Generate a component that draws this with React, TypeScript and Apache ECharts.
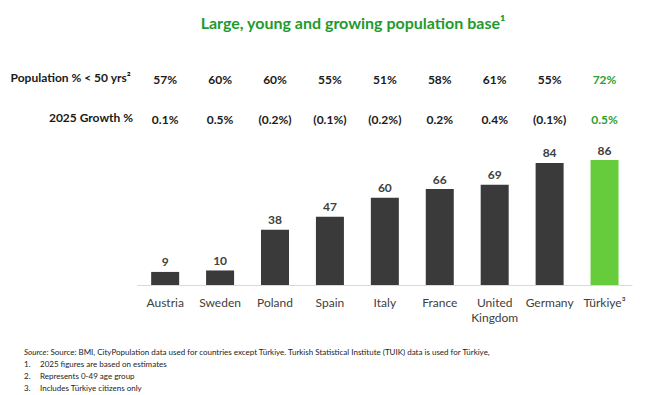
import React, { useEffect, useRef } from "react";
import * as echarts from "echarts";

const categories = ["Austria", "Sweden", "Poland", "Spain", "Italy", "France", "United\nKingdom", "Germany", "Türkiye³"];
const populationMillions = [9, 10, 38, 47, 60, 66, 69, 84, 86];
const under50Share = ["57%", "60%", "60%", "55%", "51%", "58%", "61%", "55%", "72%"];
const growth2025 = ["0.1%", "0.5%", "(0.2%)", "(0.1%)", "(0.2%)", "0.2%", "0.4%", "(0.1%)", "0.5%"];
const highlightIndex = 8;

const FONT = "Lato, 'Open Sans', sans-serif";
const DARK = "#3a3a3a";
const GREEN_BAR = "#66cc3c";
const GREEN_TEXT = "#2f9e32";
const TITLE_GREEN = "#1e9a2e";
const NOTE_SIZE = 8;

export default function App() {
  const ref = useRef<HTMLDivElement>(null);
  useEffect(() => {
    if (!ref.current) return;
    const chart = echarts.init(ref.current, undefined, { renderer: "svg" });
    const rowAxis = (data: string[], offset: number) => ({
      type: "category" as const,
      data,
      position: "top" as const,
      offset,
      gridIndex: 0,
      axisLine: { show: false },
      axisTick: { show: false },
      axisLabel: {
        margin: 0,
        interval: 0,
        fontFamily: FONT,
        fontSize: 12,
        fontWeight: "bold" as const,
        color: (_v: any, i: number) => (i === highlightIndex ? GREEN_TEXT : "#1a1a1a"),
      },
    });
    const note = (text: string, left: number, top: number) => ({
      type: "text" as const,
      left,
      top,
      style: { text, fontFamily: FONT, fontSize: NOTE_SIZE, fill: "#222" },
    });
    chart.setOption({
      animation: false,
      backgroundColor: "#ffffff",
      title: {
        text: "Large, young and growing population base¹",
        left: 348,
        top: 9,
        textAlign: "center",
        textStyle: { fontFamily: FONT, fontSize: 16, fontWeight: "bold", color: TITLE_GREEN },
      },
      grid: { left: 137.7, top: 139.7, width: 494.3, height: 145.3 },
      xAxis: [
        {
          type: "category",
          data: categories,
          axisLine: { lineStyle: { color: "#d9d9d9", width: 1 } },
          axisTick: { show: false },
          axisLabel: {
            interval: 0,
            margin: 10,
            fontFamily: FONT,
            fontSize: 12,
            color: "#404040",
            lineHeight: 15,
          },
        },
        rowAxis(under50Share, 54),
        rowAxis(growth2025, 14),
      ],
      yAxis: { type: "value", min: 0, max: 100, show: false, splitLine: { show: false } },
      series: [
        {
          type: "bar",
          data: populationMillions.map((v, i) => ({
            value: v,
            itemStyle: { color: i === highlightIndex ? GREEN_BAR : DARK },
          })),
          barWidth: 28,
          label: {
            show: true,
            position: "top",
            distance: 4,
            fontFamily: FONT,
            fontSize: 12,
            fontWeight: "bold",
            color: "#404040",
          },
        },
      ],
      graphic: [
        {
          type: "text",
          right: 670 - 131,
          top: 71,
          style: { text: "Population % < 50 yrs²", fontFamily: FONT, fontSize: 12, fontWeight: "bold", fill: "#1a1a1a" },
        },
        {
          type: "text",
          right: 670 - 133,
          top: 111,
          style: { text: "2025 Growth %", fontFamily: FONT, fontSize: 12, fontWeight: "bold", fill: "#1a1a1a" },
        },
        {
          type: "text",
          left: 24,
          top: 348,
          style: {
            text: "{i|Source:} Source: BMI, CityPopulation data used for countries except Türkiye. Turkish Statistical Institute (TUIK) data is used for Türkiye,",
            fontFamily: FONT,
            fontSize: NOTE_SIZE,
            fill: "#222",
            rich: { i: { fontStyle: "italic", fontFamily: FONT, fontSize: NOTE_SIZE, fill: "#222" } },
          },
        },
        note("1.", 24, 360),
        note("2025 figures are based on estimates", 40, 360),
        note("2.", 24, 372),
        note("Represents 0-49 age group", 40, 372),
        note("3.", 24, 384),
        note("Includes Türkiye citizens only", 40, 384),
      ],
    });
    return () => chart.dispose();
  }, []);
  return <div ref={ref} style={{ width: 670, height: 395, position: "absolute", left: 0, top: 0 }} />;
}
